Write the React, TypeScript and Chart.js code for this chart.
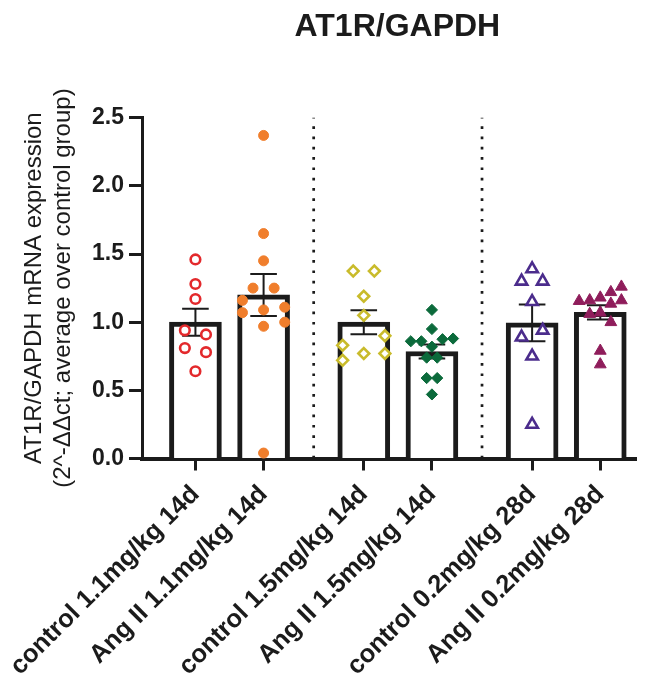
import React, { useEffect, useRef } from "react";
import { Chart, registerables } from "chart.js";

Chart.register(...registerables);

const chartTitle = "AT1R/GAPDH";
const yAxisTitle = ["AT1R/GAPDH mRNA expression", "(2^-ΔΔct; average over control group)"];

const categories = [
  "control 1.1mg/kg 14d",
  "Ang II 1.1mg/kg 14d",
  "control 1.5mg/kg 14d",
  "Ang II 1.5mg/kg 14d",
  "control 0.2mg/kg 28d",
  "Ang II 0.2mg/kg 28d",
];
const groupIndex = [0, 0, 1, 1, 2, 2];
const means = [1.0, 1.2, 1.0, 0.785, 0.995, 1.072];
const sems = [0.099, 0.154, 0.088, 0.052, 0.135, 0.052];
const yTicks = [0, 0.5, 1.0, 1.5, 2.0, 2.5];

// individual points (values) and their horizontal jitter slot
const ctrl11 = [1.46, 1.28, 1.17, 0.94, 0.91, 0.81, 0.78, 0.64];
const ctrl11Slots = [0, 0, 0, -1, 1, -1, 1, 0];
const ang11 = [2.37, 1.65, 1.45, 1.25, 1.25, 1.16, 1.11, 1.07, 1.09, 0.97, 1.0, 0.04];
const ang11Slots = [0, 0, 0, -1, 1, -2, 2, -2, 0, 0, 2, 0];
const ctrl15 = [1.375, 1.375, 1.19, 1.05, 0.9, 0.83, 0.77, 0.77, 0.72];
const ctrl15Slots = [-1, 1, 0, 0, 2, -2, 0, 2, -2];
const ang15 = [1.09, 0.95, 0.86, 0.86, 0.875, 0.88, 0.82, 0.74, 0.74, 0.59, 0.59, 0.47];
const ang15Slots = [0, 0, -2, -1, 1, 2, 0, -0.5, 0.5, -0.5, 0.5, 0];
const ctrl02 = [1.39, 1.3, 1.3, 1.15, 0.94, 0.89, 0.75, 0.25];
const ctrl02Slots = [0, -1, 1, 0, 1, -1, 0, 0];
const ang02 = [1.26, 1.22, 1.155, 1.16, 1.18, 1.16, 1.135, 1.06, 1.07, 1.0, 0.79, 0.69];
const ang02Slots = [2, 1, -2, -1, 0, 2, 1, -1, 0, 1, 0, 0];

const seriesValues = [ctrl11, ang11, ctrl15, ang15, ctrl02, ang02];
const seriesSlots = [ctrl11Slots, ang11Slots, ctrl15Slots, ang15Slots, ctrl02Slots, ang02Slots];

const seriesStyles = [
  { color: "#e3292c", shape: "circle", filled: false, r: 4.8 },
  { color: "#f07e2c", shape: "circle", filled: true, r: 5 },
  { color: "#c9bb2b", shape: "rectRot", filled: false, r: 5.4 },
  { color: "#0b6a3b", shape: "rectRot", filled: true, r: 5.6 },
  { color: "#4b2c8c", shape: "triangle", filled: false, r: 6.6 },
  { color: "#8f1d5b", shape: "triangle", filled: true, r: 6.8 },
];

const INK = "#1b1b1b";
const FONT = "'Liberation Sans', Arial, Helvetica, sans-serif";
const GROUP_GAP = 0.47;
const SLOT = 0.155;

const catPos = categories.map((_, i) => i + 1 + groupIndex[i] * GROUP_GAP);
const separators = [1, 3].map((i) => (catPos[i] + catPos[i + 1]) / 2);

const decorPlugin = {
  id: "decor",
  beforeDatasetsDraw(chart: any) {
    const { ctx, scales } = chart;
    const xs = scales.x;
    const ys = scales.y;
    ctx.save();
    ctx.strokeStyle = INK;
    ctx.lineWidth = 2.7;
    ctx.setLineDash([2.7, 7.6]);
    separators.forEach((s) => {
      const x = xs.getPixelForValue(s);
      ctx.beginPath();
      ctx.moveTo(x, ys.getPixelForValue(0));
      ctx.lineTo(x, ys.getPixelForValue(2.5));
      ctx.stroke();
    });
    ctx.restore();
  },
  afterDatasetDraw(chart: any, args: any) {
    if (args.index !== 0) return;
    const { ctx, scales } = chart;
    const xs = scales.x;
    const ys = scales.y;
    ctx.save();
    ctx.strokeStyle = INK;
    ctx.lineWidth = 2;
    means.forEach((m, i) => {
      const x = xs.getPixelForValue(catPos[i]);
      const yt = ys.getPixelForValue(m + sems[i]);
      const yb = ys.getPixelForValue(m - sems[i]);
      const cap = 13.3;
      ctx.beginPath();
      ctx.moveTo(x, yt);
      ctx.lineTo(x, yb);
      ctx.moveTo(x - cap, yt);
      ctx.lineTo(x + cap, yt);
      ctx.moveTo(x - cap, yb);
      ctx.lineTo(x + cap, yb);
      ctx.stroke();
    });
    ctx.restore();
  },
  afterDraw(chart: any) {
    const { ctx, chartArea } = chart;
    ctx.save();
    ctx.fillStyle = INK;
    ctx.font = `bold 32px ${FONT}`;
    ctx.textAlign = "center";
    ctx.textBaseline = "middle";
    ctx.fillText(chartTitle, (chartArea.left + chartArea.right) / 2 + 8, 27);
    ctx.restore();
  },
};

export default function App() {
  const canvasRef = useRef<HTMLCanvasElement | null>(null);

  useEffect(() => {
    if (!canvasRef.current) return;

    const scatterSets = seriesValues.map((vals, i) => {
      const st = seriesStyles[i];
      return {
        type: "scatter" as const,
        label: categories[i],
        data: vals.map((v, j) => ({ x: catPos[i] + seriesSlots[i][j] * SLOT, y: v })),
        pointStyle: st.shape,
        pointRadius: st.r,
        pointBorderWidth: st.filled ? 1 : 2.6,
        pointBorderColor: st.color,
        pointBackgroundColor: st.filled ? st.color : "#ffffff",
        clip: false as any,
        order: 0,
      };
    });

    const chart = new Chart(canvasRef.current, {
      type: "bar",
      data: {
        datasets: [
          {
            type: "bar" as const,
            label: "mean",
            data: means.map((m, i) => ({ x: catPos[i], y: m })) as any,
            backgroundColor: "#ffffff",
            borderColor: INK,
            borderWidth: 5,
            borderSkipped: "start",
            barThickness: 52,
            order: 10,
          },
          ...(scatterSets as any),
        ],
      },
      options: {
        animation: false,
        responsive: false,
        layout: { padding: { left: 0, right: 6, top: 117.7, bottom: 0 } },
        plugins: {
          legend: { display: false },
          tooltip: { enabled: false },
          title: { display: false },
        },
        scales: {
          x: {
            type: "linear",
            min: catPos[0] - 0.784,
            max: catPos[5] + 0.536,
            offset: false,
            afterBuildTicks: (s: any) => {
              s.ticks = catPos.map((v) => ({ value: v }));
            },
            afterFit: (s: any) => {
              s.height = 218.5;
              s.paddingLeft = 0;
              s.paddingRight = 0;
            },
            grid: {
              drawOnChartArea: false,
              drawTicks: true,
              tickLength: 12,
              tickWidth: 3,
              tickColor: INK,
              offset: false,
            },
            border: { display: true, color: INK, width: 4 },
            ticks: {
              autoSkip: false,
              minRotation: 45,
              maxRotation: 45,
              padding: 9,
              color: INK,
              font: { family: FONT, size: 25.5, weight: "bold" },
              callback: (_v: any, i: number) => categories[i],
            },
          },
          y: {
            type: "linear",
            min: 0,
            max: 2.5,
            afterBuildTicks: (s: any) => {
              s.ticks = yTicks.map((v) => ({ value: v }));
            },
            afterFit: (s: any) => {
              s.width = 142;
            },
            grid: {
              drawOnChartArea: false,
              drawTicks: true,
              tickLength: 13,
              tickWidth: 3,
              tickColor: INK,
            },
            border: { display: true, color: INK, width: 3 },
            ticks: {
              padding: 5,
              color: INK,
              font: { family: FONT, size: 23, weight: "bold" },
              callback: (v: any) => Number(v).toFixed(1),
            },
            title: {
              display: true,
              text: yAxisTitle,
              color: INK,
              font: { family: FONT, size: 24, weight: "normal", lineHeight: 1.2 },
              padding: { top: 20, bottom: 0 },
            },
          },
        },
      } as any,
      plugins: [decorPlugin],
    });

    return () => chart.destroy();
  }, []);

  return (
    <div style={{ position: "absolute", left: 0, top: 0, width: 646, height: 677, background: "#ffffff" }}>
      <canvas ref={canvasRef} width={646} height={677} style={{ display: "block" }} />
    </div>
  );
}
